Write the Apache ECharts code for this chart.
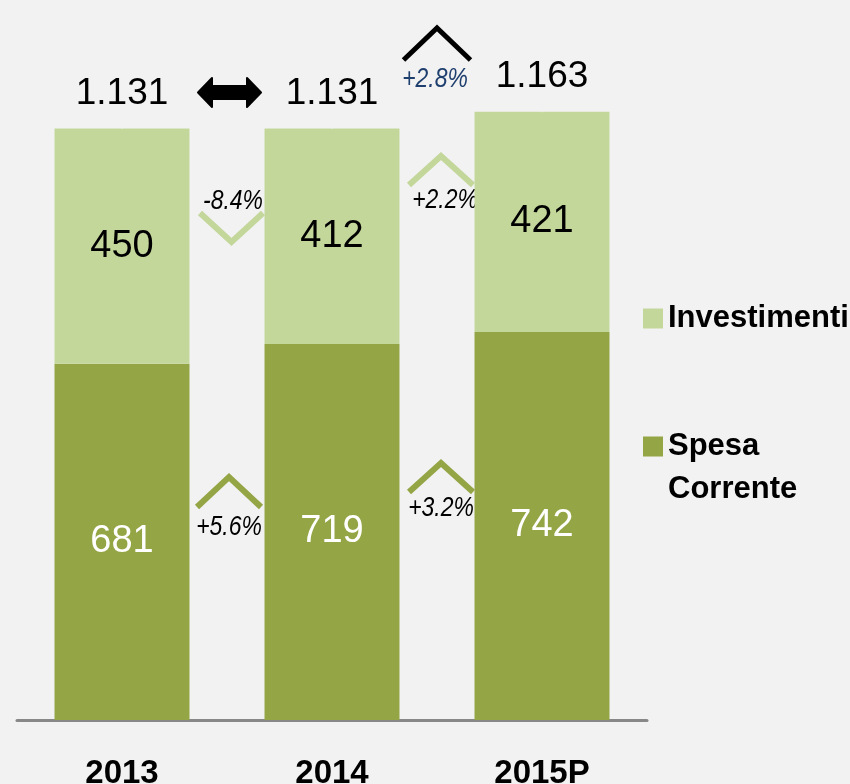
<!DOCTYPE html>
<html>
<head>
<meta charset="utf-8">
<title>Spesa</title>
<script src="https://cdn.jsdelivr.net/npm/echarts@6/dist/echarts.min.js"></script>
<style>
  html, body { margin: 0; padding: 0; background: #f2f2f2; }
  #chart { width: 850px; height: 784px; }
</style>
</head>
<body>
<div id="chart"></div>
<script>
const years = ['2013', '2014', '2015P'];
const spesaCorrente = [681, 719, 742];
const investimenti = [450, 412, 421];
const totals = [1131, 1131, 1163];

const SANS = '"Liberation Sans", Arial, sans-serif';
const DARK = '#94a545';
const LIGHT = '#c4d79b';

function itNumber(v) {
  return String(v).replace(/\B(?=(\d{3})+(?!\d))/g, '.');
}

let chartDom = document.getElementById('chart');
let myChart = echarts.init(chartDom);
let option;

option = {
  backgroundColor: '#f2f2f2',
  animation: false,
  grid: { left: 17, right: 203, top: 40, bottom: 64, containLabel: false, outerBoundsMode: 'none' },
  legend: {
    orient: 'vertical',
    left: 643,
    top: 297,
    padding: 0,
    itemWidth: 20,
    itemHeight: 20,
    itemGap: 42,
    icon: 'rect',
    selectedMode: false,
    data: ['Investimenti', 'Spesa Corrente'],
    formatter: function (name) {
      return name === 'Spesa Corrente' ? '\nSpesa\nCorrente' : name;
    },
    textStyle: {
      fontFamily: SANS,
      fontSize: 31,
      fontWeight: 'bold',
      lineHeight: 43,
      color: '#000'
    }
  },
  xAxis: {
    type: 'category',
    data: years,
    axisLine: { lineStyle: { color: '#888888', width: 3 } },
    axisTick: { show: false },
    axisLabel: {
      margin: 37,
      fontFamily: SANS,
      fontSize: 33,
      fontWeight: 'bold',
      color: '#000'
    }
  },
  yAxis: {
    type: 'value',
    min: 0,
    max: 1300,
    show: false,
    splitLine: { show: false }
  },
  series: [
    {
      name: 'Spesa Corrente',
      type: 'bar',
      stack: 'tot',
      barWidth: 135,
      data: spesaCorrente,
      itemStyle: { color: DARK },
      label: {
        show: true,
        position: 'inside',
        fontFamily: SANS,
        fontSize: 38,
        color: '#fff'
      }
    },
    {
      name: 'Investimenti',
      type: 'bar',
      stack: 'tot',
      barWidth: 135,
      data: investimenti,
      itemStyle: { color: LIGHT },
      label: {
        show: true,
        position: 'inside',
        fontFamily: SANS,
        fontSize: 38,
        color: '#000'
      }
    },
    {
      name: 'Totale',
      type: 'scatter',
      data: totals,
      symbolSize: 1,
      itemStyle: { color: '#f2f2f2', opacity: 1 },
      silent: true,
      label: {
        show: true,
        position: 'top',
        distance: 16,
        fontFamily: SANS,
        fontSize: 37,
        color: '#000000',
        formatter: function (p) { return itNumber(p.value); }
      }
    }
  ]
};
myChart.setOption(option);

// annotations between the bars
let x0 = myChart.convertToPixel({ xAxisIndex: 0 }, years[0]);
let x1 = myChart.convertToPixel({ xAxisIndex: 0 }, years[1]);
let x2 = myChart.convertToPixel({ xAxisIndex: 0 }, years[2]);
let g1 = (x0 + x1) / 2;
let g2 = (x1 + x2) / 2;

function chevron(cx, yBase, yApex, half, color, width) {
  return {
    type: 'polyline',
    shape: { points: [[cx - half, yBase], [cx, yApex], [cx + half, yBase]] },
    style: { stroke: color, lineWidth: width, fill: null }
  };
}

function pct(cx, cy, txt, color) {
  return {
    type: 'text',
    x: cx,
    y: cy,
    scaleX: 0.82,
    style: {
      text: txt,
      fontFamily: SANS,
      fontSize: 28,
      fontStyle: 'italic',
      fill: color || '#000',
      align: 'center',
      verticalAlign: 'middle'
    }
  };
}

let ax = g1 + 2.5;
let arrow = {
  type: 'polygon',
  shape: {
    points: [
      [ax - 31.5, 92.5], [ax - 17.5, 78], [ax - 17.5, 86], [ax + 17.5, 86], [ax + 17.5, 78],
      [ax + 31.5, 92.5], [ax + 17.5, 107], [ax + 17.5, 99], [ax - 17.5, 99], [ax - 17.5, 107]
    ]
  },
  style: { fill: '#000', stroke: '#000', lineWidth: 2, lineJoin: 'round' }
};

myChart.setOption({
  graphic: [
    arrow,
    chevron(g2, 60, 28, 33.5, '#000', 5),
    pct(g2 - 2, 79, '+2.8%', '#1f3f6e'),
    chevron(g1 + 4.5, 213, 242, 31.5, LIGHT, 6),
    pct(g1 + 6, 201, '-8.4%'),
    chevron(g1 + 2, 507, 477, 32, DARK, 6),
    pct(g1 + 2, 527, '+5.6%'),
    chevron(g2 + 4, 185, 156, 32, LIGHT, 6),
    pct(g2 + 8, 200, '+2.2%'),
    chevron(g2 + 4, 492, 463, 32, DARK, 6),
    pct(g2 + 4, 508, '+3.2%')
  ]
});
</script>
</body>
</html>
